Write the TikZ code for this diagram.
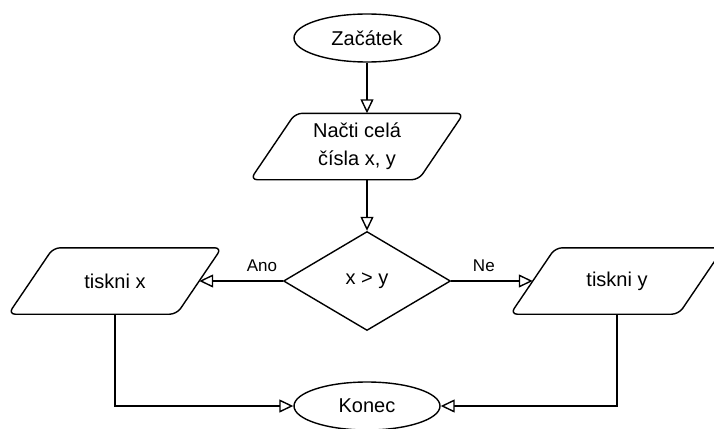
\documentclass[tikz,border=0pt]{standalone}
\usepackage{fontspec}
\setmainfont{Liberation Sans}
\usetikzlibrary{shapes.geometric,arrows.meta}

\tikzset{
  main font/.style={font=\fontsize{20}{28}\selectfont},
  stroke/.style={line width=1.4pt, draw=black},
  arr/.style={stroke, -{Triangle[open, length=14pt, width=13pt, fill=white]}},
  terminal/.style={ellipse, stroke, main font, minimum width=146pt,
    minimum height=48pt, inner sep=0pt},
  decision/.style={diamond, stroke, main font, minimum width=167pt,
    minimum height=99pt, inner sep=0pt},
  % text area of a data box; its east/west anchors sit on the slanted sides
  iobox/.style={rectangle, main font, align=center, minimum width=168pt,
    minimum height=66pt, inner sep=0pt},
  ioframe/.style={stroke, rounded corners=7pt},
  lbl/.style={font=\fontsize{17}{20}\selectfont, inner sep=0pt},
}

% slanted outline of a data box
\newcommand{\ioframe}[1]{%
  \draw[ioframe] ([xshift=-22.5pt]#1.south west) -- ([xshift=22.5pt]#1.north west)
    -- ([xshift=22.5pt]#1.north east) -- ([xshift=-22.5pt]#1.south east) -- cycle;}

\begin{document}
\begin{tikzpicture}[x=1pt, y=-1pt]
  \useasboundingbox (0,0) rectangle (714,428);
  \clip (0,0) rectangle (714,428);

  \node[terminal] (start) at (367,38) {Začátek};
  \node[iobox] (read) at (357,146.5) {Načti celá\\čísla x, y};
  \ioframe{read}
  \node[decision] (dec) at (367,281) {x > y};
  \node[iobox] (px) at (115,281) {tiskni x};
  \ioframe{px}
  \node[iobox] (py) at (617,281) {tiskni y};
  \ioframe{py}
  \node[terminal] (end) at (367,406) {Konec};

  \draw[arr] (start.south) -- (start.south |- read.north);
  \draw[arr] (read.south -| dec.north) -- (dec.north);
  \draw[arr] (dec.west) -- node[lbl, pos=0.25, above=9pt] {Ano} (px.east);
  \draw[arr] (dec.east) -- node[lbl, pos=0.4, above=9pt] {Ne} (py.west);
  \draw[arr] (px.south) |- (end.west);
  \draw[arr] (py.south) |- (end.east);
\end{tikzpicture}
\end{document}
